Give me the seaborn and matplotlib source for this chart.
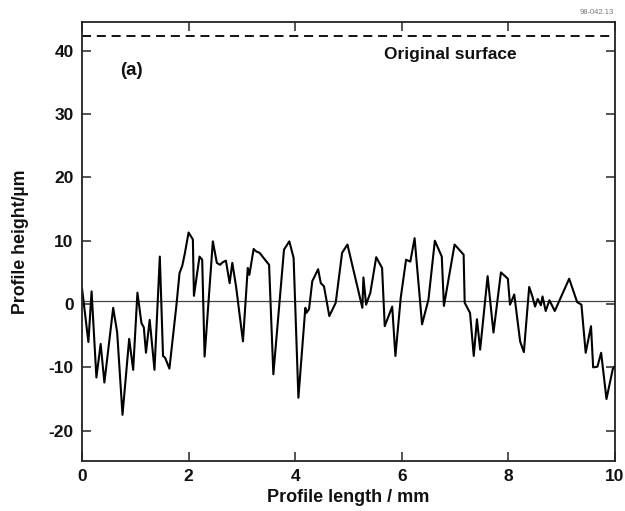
import numpy as np
import pandas as pd
import matplotlib
matplotlib.use("Agg")
import matplotlib.pyplot as plt
import seaborn as sns

# profile trace (mm, um)
profile_x = [0.00, 0.12, 0.18, 0.27, 0.35, 0.42, 0.585, 0.66, 0.76, 0.885, 0.96,
             1.04, 1.115, 1.16, 1.20, 1.27, 1.36, 1.46, 1.52, 1.56, 1.64, 1.77,
             1.83, 1.88, 1.925, 2.00, 2.08, 2.10, 2.205, 2.255, 2.30, 2.455, 2.53,
             2.59, 2.64, 2.70, 2.77, 2.82, 2.89, 3.02, 3.11, 3.14, 3.22, 3.27,
             3.33, 3.51, 3.59, 3.79, 3.89, 3.97, 4.06, 4.19, 4.21, 4.26, 4.32,
             4.43, 4.48, 4.54, 4.64, 4.76, 4.88, 4.98, 5.26, 5.28, 5.33, 5.41,
             5.52, 5.63, 5.68, 5.82, 5.88, 5.98, 6.08, 6.16, 6.24, 6.38, 6.50,
             6.62, 6.75, 6.79, 6.99, 7.16, 7.18, 7.28, 7.35, 7.41, 7.47, 7.61,
             7.72, 7.86, 7.99, 8.03, 8.11, 8.22, 8.29, 8.39, 8.45, 8.50, 8.55,
             8.61, 8.64, 8.70, 8.77, 8.87, 9.14, 9.29, 9.37, 9.45, 9.55, 9.59,
             9.67, 9.74, 9.84, 9.96, 10.00]
profile_y = [2.5, -6.0, 2.0, -11.6, -6.3, -12.4, -0.6, -4.5, -17.5, -5.5, -10.4,
             1.8, -3.0, -3.7, -7.7, -2.5, -10.4, 7.5, -8.2, -8.5, -10.2, -0.3,
             4.9, 6.0, 7.8, 11.3, 10.2, 1.3, 7.5, 7.0, -8.3, 9.9, 6.5,
             6.2, 6.6, 6.85, 3.3, 6.5, 2.8, -5.9, 5.7, 4.6, 8.7, 8.3,
             8.1, 6.2, -11.1, 8.6, 9.9, 7.3, -14.8, -0.6, -1.4, -0.8, 3.6,
             5.5, 3.3, 2.8, -1.9, 0.2, 8.1, 9.4, -0.6, 4.2, -0.1, 1.8,
             7.4, 5.7, -3.5, -0.4, -8.2, 1.0, 7.0, 6.7, 10.4, -3.2, 0.7,
             10.0, 7.5, -0.3, 9.4, 7.8, 0.2, -1.4, -8.2, -2.4, -7.2, 4.4,
             -4.5, 5.0, 4.0, -0.1, 1.5, -5.9, -7.6, 2.7, 1.2, -0.4, 0.8,
             -0.2, 1.2, -1.1, 0.6, -1.1, 4.0, 0.3, -0.1, -7.7, -3.5, -10.0,
             -9.9, -7.7, -15.0, -10.2, -9.8]

original_surface = 42.4
mean_line = 0.45
x_ticks = [0, 2, 4, 6, 8, 10]
y_ticks = [-20, -10, 0, 10, 20, 30, 40]

sns.set_style("ticks")
plt.rcParams['font.family'] = ['Liberation Sans', 'DejaVu Sans']
plt.rcParams['font.weight'] = 'bold'
plt.rcParams['axes.unicode_minus'] = False

df = pd.DataFrame({'length': profile_x, 'height': profile_y})

fig = plt.figure(figsize=(6.25, 5.11), dpi=100)
ax = fig.add_axes([0.1312, 0.0978, 0.8528, 0.8597])

# reference lines
ax.axhline(mean_line, color='#444444', lw=0.9, zorder=1)
ax.axhline(original_surface, color='black', lw=1.3, ls=(0, (5, 3.2)), zorder=1)

sns.lineplot(data=df, x='length', y='height', color='black', lw=1.5,
             sort=False, estimator=None, ax=ax, zorder=2)

ax.set_xlim(0, 10)
ax.set_ylim(-24.8, 44.6)
ax.set_xticks(x_ticks)
ax.set_yticks(y_ticks)
ax.tick_params(direction='in', length=6.5, width=1.1, top=True, right=True,
               labelsize=12.5, pad=6, labelcolor='#111111')
for lab in ax.get_xticklabels() + ax.get_yticklabels():
    lab.set_fontweight('bold')
for sp in ax.spines.values():
    sp.set_linewidth(1.3)
    sp.set_color('#222222')

ax.set_xlabel('Profile length / mm', fontsize=13, fontweight='bold', labelpad=3,
              color='#111111')
ax.set_ylabel('Profile height/\u00b5m', fontsize=12.8, fontweight='bold', labelpad=14,
              color='#111111')

ax.text(0.93, 36.9, '(a)', fontsize=13.5, fontweight='bold', ha='center', va='center',
        color='#111111')
ax.text(5.66, 39.4, 'Original surface', fontsize=12.5, fontweight='bold',
        ha='left', va='center', color='#111111')
fig.text(0.983, 0.975, '98-042.13', fontsize=5.5, color='#777777',
         ha='right', va='center', fontweight='normal')

fig.savefig('out.png', dpi=100)
